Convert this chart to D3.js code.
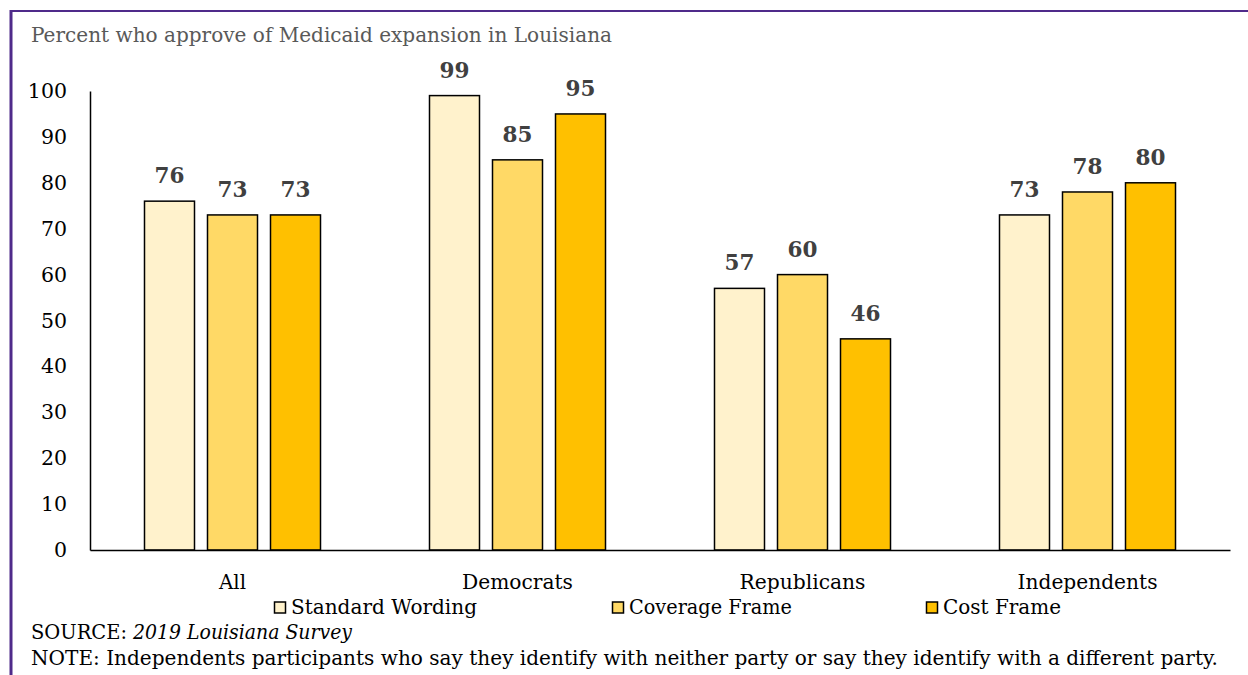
<!DOCTYPE html>
<html>
<head>
<meta charset="utf-8">
<script src="https://cdn.jsdelivr.net/npm/d3@7"></script>
<style>
  html, body { margin: 0; padding: 0; background: #fff; }
  svg { display: block; }
  text { font-family: "DejaVu Serif", serif; }
</style>
</head>
<body>
<svg id="chart" width="1248" height="675"></svg>
<script>
const categories = ["All", "Democrats", "Republicans", "Independents"];
const seriesNames = ["Standard Wording", "Coverage Frame", "Cost Frame"];
const standardWording = [76, 99, 57, 73];
const coverageFrame = [73, 85, 60, 78];
const costFrame = [73, 95, 46, 80];
const yTicks = [0, 10, 20, 30, 40, 50, 60, 70, 80, 90, 100];
const colors = ["#FFF2CC", "#FFD966", "#FFC000"];
const titleText = "Percent who approve of Medicaid expansion in Louisiana";

const seriesValues = [standardWording, coverageFrame, costFrame];
const data = categories.map((c, i) => ({
  cat: c,
  vals: seriesNames.map((s, j) => ({ s, v: seriesValues[j][i], j }))
}));

const svg = d3.select("#chart");

// border
svg.append("line").attr("x1", 10).attr("x2", 1248).attr("y1", 11).attr("y2", 11)
  .attr("stroke", "#4F2A8A").attr("stroke-width", 2.2);
svg.append("line").attr("x1", 11).attr("x2", 11).attr("y1", 10).attr("y2", 675)
  .attr("stroke", "#4F2A8A").attr("stroke-width", 3);

// title
svg.append("text").attr("x", 31).attr("y", 42).attr("fill", "#595959")
  .attr("font-size", 20.5).attr("textLength", 581).attr("lengthAdjust", "spacingAndGlyphs")
  .text(titleText);

const x0 = d3.scaleBand().domain(categories).range([90, 1230]).paddingInner(0).paddingOuter(0);
const x1 = d3.scaleBand().domain(seriesNames).range([0, x0.bandwidth()])
  .paddingInner(13 / 63).paddingOuter(0.865);
const y = d3.scaleLinear().domain([0, 100]).range([550, 91]);

// y axis
const yAxis = d3.axisLeft(y).tickValues(yTicks).tickSize(0).tickPadding(23);
const gy = svg.append("g").attr("transform", "translate(90,0)").call(yAxis);
gy.select(".domain").attr("stroke", "#000").attr("stroke-width", 1.5);
gy.selectAll("text").attr("font-family", "DejaVu Serif").attr("font-size", 20.5)
  .attr("fill", "#000");

// bars
const groups = svg.append("g").selectAll("g").data(data).join("g")
  .attr("transform", d => `translate(${x0(d.cat)},0)`);
groups.selectAll("rect").data(d => d.vals).join("rect")
  .attr("x", d => x1(d.s))
  .attr("y", d => y(d.v))
  .attr("width", x1.bandwidth())
  .attr("height", d => y(0) - y(d.v))
  .attr("fill", d => colors[d.j])
  .attr("stroke", "#000").attr("stroke-width", 1.5);
groups.selectAll("text.lbl").data(d => d.vals).join("text").attr("class", "lbl")
  .attr("x", d => x1(d.s) + x1.bandwidth() / 2)
  .attr("y", d => y(d.v) - 18)
  .attr("text-anchor", "middle")
  .attr("font-weight", "bold").attr("font-size", 21.5).attr("fill", "#404040")
  .text(d => d.v);

// x axis
const xAxis = d3.axisBottom(x0).tickSize(0).tickPadding(0).tickSizeOuter(0);
const gx = svg.append("g").attr("transform", "translate(0,550)").call(xAxis);
gx.select(".domain").attr("stroke", "#000").attr("stroke-width", 1.5);
gx.selectAll("text").attr("font-family", "DejaVu Serif").attr("font-size", 20)
  .attr("fill", "#000").attr("dy", null).attr("y", 39)
  .attr("lengthAdjust", "spacingAndGlyphs")
  .attr("textLength", d => ({ "All": 27, "Democrats": 111, "Republicans": 126, "Independents": 140 })[d]);

// legend
const legendX = [274, 612, 926];
const legendW = [186, 163, 118];
const leg = svg.append("g").selectAll("g").data(seriesNames).join("g")
  .attr("transform", (d, i) => `translate(${legendX[i]},0)`);
leg.append("rect").attr("x", 0.5).attr("y", 602).attr("width", 11).attr("height", 11)
  .attr("fill", (d, i) => colors[i]).attr("stroke", "#000").attr("stroke-width", 1.5);
leg.append("text").attr("x", 17).attr("y", 614).attr("font-size", 20).attr("fill", "#000")
  .attr("textLength", (d, i) => legendW[i]).attr("lengthAdjust", "spacingAndGlyphs")
  .text(d => d);

// source & note
const src = svg.append("text").attr("x", 31).attr("y", 639).attr("font-size", 20).attr("fill", "#000");
src.append("tspan").attr("textLength", 96).attr("lengthAdjust", "spacingAndGlyphs").text("SOURCE:");
src.append("tspan").attr("x", 133).attr("font-style", "italic")
  .attr("textLength", 219).attr("lengthAdjust", "spacingAndGlyphs").text("2019 Louisiana Survey");
svg.append("text").attr("x", 31).attr("y", 665).attr("font-size", 20).attr("fill", "#000")
  .attr("textLength", 1187).attr("lengthAdjust", "spacingAndGlyphs")
  .text("NOTE: Independents participants who say they identify with neither party or say they identify with a different party.");
</script>
</body>
</html>
